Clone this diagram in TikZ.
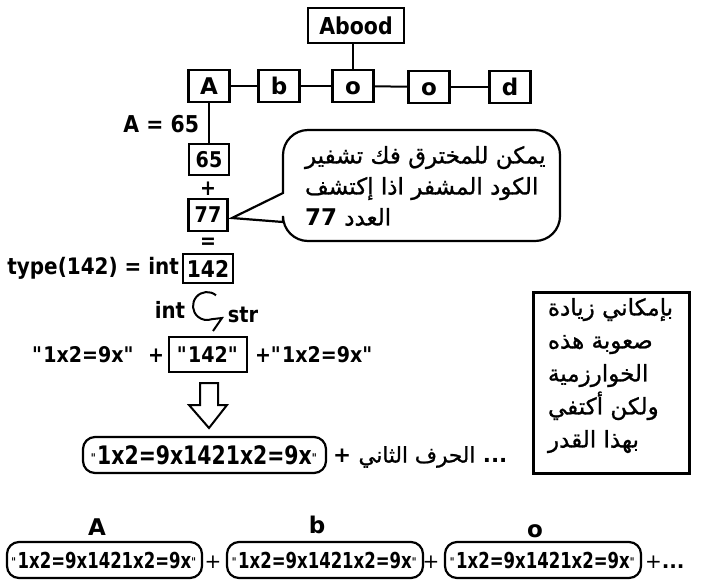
\documentclass[tikz,border=0pt]{standalone}
\usepackage{fontspec}
\setmainfont{DejaVu Sans}
\newfontfamily\lat{DejaVu Sans}[FakeStretch=0.88]
\newfontfamily\cnd{DejaVu Sans}[FakeStretch=0.75]
\newfontfamily\cndm{DejaVu Sans}[FakeStretch=0.8]
\newfontfamily\arabicfont[Script=Arabic,FakeBold=1]{DejaVu Sans}
\TeXXeTstate=1
\newcommand\dq{\XeTeXglyph\XeTeXglyphindex "quotedbl"\relax}
\newcommand\smq{{\fontsize{12}{12}\selectfont\raisebox{2pt}{\dq}}}
\begin{document}
\begin{tikzpicture}[x=1pt,y=-1pt,
  line width=2pt,
  lbox/.style={draw, line width=2.2pt, inner sep=0pt, font=\lat\bfseries\fontsize{23}{24}\selectfont},
  letterbox/.style={lbox, minimum width=41pt, minimum height=32pt, text height=16.5pt, text depth=0pt, font=\bfseries\fontsize{23}{24}\selectfont},
  lab/.style={inner sep=0pt, font=\lat\bfseries\fontsize{21.6}{24}\selectfont},
  rbox/.style={draw, line width=2.2pt, rounded corners=12pt, inner sep=0pt, minimum height=36pt, font=\cnd\bfseries\fontsize{22}{24}\selectfont},
  artext/.style={inner sep=0pt, align=left, font=\arabicfont\fontsize{23}{31}\selectfont},
  conn/.style={line width=2pt}]
\useasboundingbox (0,0) rectangle (703,587);
% top word and letters
\node[lbox, minimum width=96pt, minimum height=35pt, font=\lat\bfseries\fontsize{23.3}{24}\selectfont] (abood) at (356,25.5) {Abood};
\node[letterbox] (cA) at (209,86) {A};
\node[letterbox] (cb) at (279,86) {b};
\node[letterbox] (co) at (353,86) {o};
\node[letterbox] (co2) at (429,87) {o};
\node[letterbox] (cd) at (510,87) {d};
\draw[conn] (co.north) -- (co.north |- abood.south);
\draw[conn] (cA) -- (cb);
\draw[conn] (cb) -- (co);
\draw[conn] (co) -- (co2);
\draw[conn] (co2) -- (cd);
% A = 65 chain
\node[lab, anchor=east, font=\lat\bfseries\fontsize{23.2}{24}\selectfont] (aeq) at (200,124) {A = 65};
\node[lbox, minimum width=40pt, minimum height=31pt, font=\lat\bfseries\fontsize{21.7}{24}\selectfont] (n65) at (209,159.5) {65};
\draw[conn] (cA.south) -- (n65.north);
\node[lab] (plus1) at (208,189) {+};
\node[lbox, minimum width=39pt, minimum height=32pt, font=\lat\bfseries\fontsize{21.7}{24}\selectfont] (n77) at (208,215) {77};
\node[lab] (eq1) at (208,243) {=};
\node[lbox, minimum width=50pt, minimum height=29pt] (n142) at (208,268.5) {142};
\node[lab, anchor=east, font=\lat\bfseries\fontsize{22.7}{26}\selectfont] (typ) at (180,268) {type(142) = int};
% speech bubble
\coordinate (tip) at (232,218);
\draw[line width=2.2pt] (283,193) -- (tip) -- (283,222) -- (283,216)
  arc[start angle=180, end angle=90, radius=25] -- (535,241)
  arc[start angle=90, end angle=0, radius=25] -- (560,155)
  arc[start angle=0, end angle=-90, radius=25] -- (308,130)
  arc[start angle=-90, end angle=-180, radius=25] -- cycle;
\node[artext, anchor=north west] (bubtxt) at (304,145) {\beginR يمكن للمخترق فك تشفير\endR\\ \beginR الكود المشفر اذا إكتشف\endR\\ \beginR العدد {\normalfont\bfseries 77}\endR};
% int / str
\node[lab, font=\lat\bfseries\fontsize{22.5}{24}\selectfont] (int) at (170,310) {int};
\node[lab, font=\lat\bfseries\fontsize{22}{24}\selectfont] (str) at (243,315) {str};
\draw[line width=2pt] (216,295.3) arc[start angle=-50, end angle=-290, radius=14] -- (222,318) -- (213,331);
% concatenation
\node[lab, anchor=east] (q1) at (165,355) {\dq1x2=9x\dq\ \ +};
\node[lbox, minimum width=78pt, minimum height=35pt, font=\lat\bfseries\fontsize{21.6}{24}\selectfont] (q142) at (208,354.5) {\dq142\dq};
\node[lab, anchor=west] (q2) at (254,355) {+\dq1x2=9x\dq};
% hollow arrow
\draw[line width=2pt] (200,383) -- (218,383) -- (218,405) -- (227,405) -- (209,428) -- (189,405) -- (200,405) -- cycle;
% result box
\node[rbox, minimum width=243pt, font=\cndm\bfseries\fontsize{25.5}{26}\selectfont] (mid) at (204.5,455) {\smq1x2=9x1421x2=9x\smq};
\node[anchor=west, inner sep=0pt, font=\fontsize{21.5}{24}\selectfont] (second) at (332,457) {\bfseries +\ {\arabicfont\mdseries\beginR الحرف الثاني\endR}\ ...};
% note box
\node[draw, line width=2.5pt, minimum width=156pt, minimum height=181pt, anchor=north west, inner sep=0pt] (note) at (532,291) {};
\node[artext, anchor=north west, font=\arabicfont\fontsize{23}{33}\selectfont] (notetxt) at (547,297) {\beginR بإمكاني زيادة\endR\\ \beginR صعوبة هذه\endR\\ \beginR الخوارزمية\endR\\ \beginR ولكن أكتفي\endR\\ \beginR بهذا القدر\endR};
% bottom row
\node[lab, anchor=base, font=\bfseries\fontsize{23}{24}\selectfont] (la) at (97,535) {A};
\node[lab, anchor=base, font=\bfseries\fontsize{23}{24}\selectfont] (lb) at (317,533) {b};
\node[lab, anchor=base, font=\bfseries\fontsize{23}{24}\selectfont] (lo) at (535,537) {o};
\node[rbox, minimum width=195pt] (b1) at (104.5,560) {\smq1x2=9x1421x2=9x\smq};
\node[rbox, minimum width=196pt] (b2) at (325,560) {\smq1x2=9x1421x2=9x\smq};
\node[rbox, minimum width=196pt] (b3) at (543,560) {\smq1x2=9x1421x2=9x\smq};
\node[inner sep=0pt, font=\fontsize{20}{22}\selectfont] (p1) at (213,562) {+};
\node[inner sep=0pt, font=\fontsize{20}{22}\selectfont] (p2) at (431,562) {+};
\node[inner sep=0pt, anchor=west, font=\fontsize{20}{22}\selectfont] (p3) at (644,562) {+\textbf{...}};
\end{tikzpicture}
\end{document}
